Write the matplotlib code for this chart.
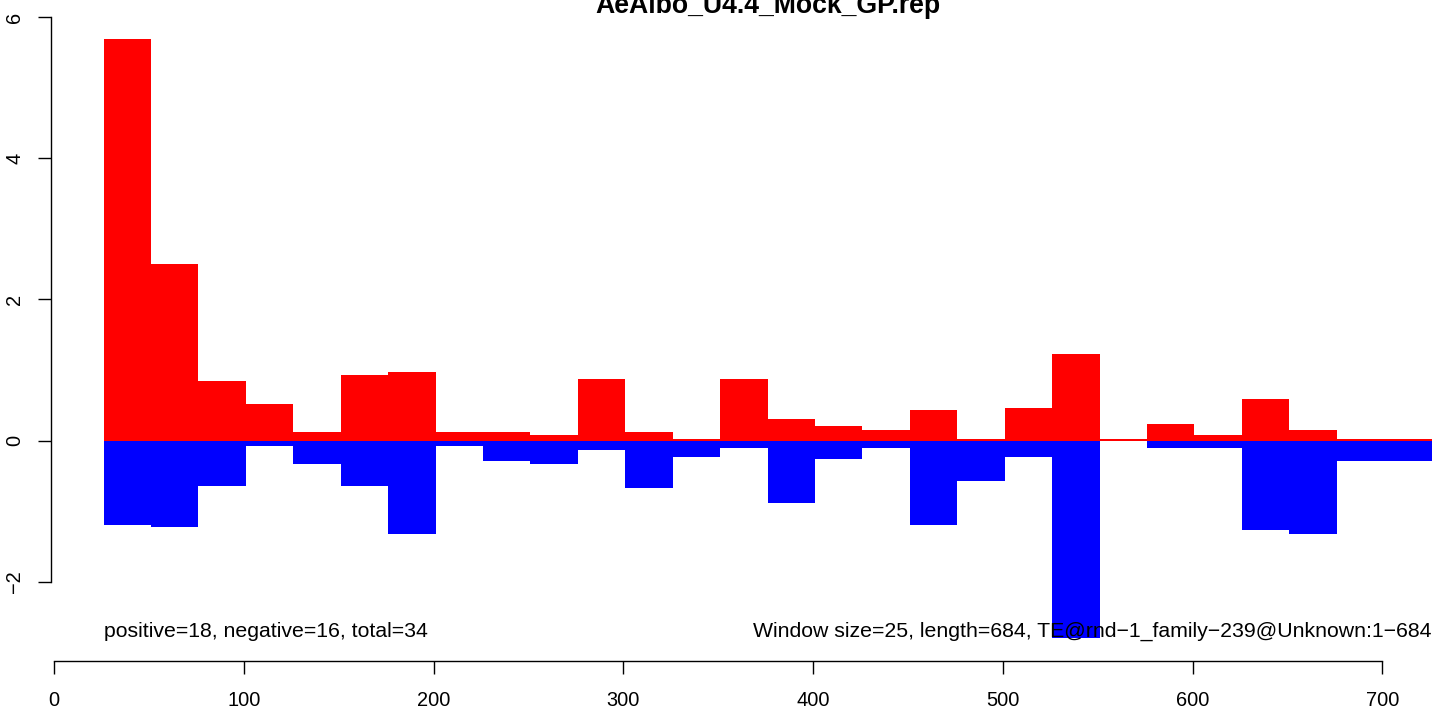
import matplotlib
matplotlib.use("Agg")
import matplotlib.pyplot as plt

plt.rcParams['font.family'] = ['Liberation Sans', 'DejaVu Sans']

title = "AeAlbo_U4.4_Mock_GP.rep"
window_start = [26, 51, 76, 101, 126, 151, 176, 201, 226, 251, 276, 301, 326, 351,
                376, 401, 426, 451, 476, 501, 526, 551, 576, 601, 626, 651, 676, 701]
pos_vals = [5.69, 2.50, 0.84, 0.525, 0.128, 0.936, 0.965, 0.128, 0.128, 0.085,
            0.879, 0.128, 0.028, 0.879, 0.312, 0.213, 0.156, 0.44, 0.028, 0.468,
            1.22, 0.028, 0.241, 0.085, 0.596, 0.156, 0.028, 0.028]
neg_vals = [-1.19, -1.22, -0.64, -0.07, -0.326, -0.64, -1.32, -0.07, -0.284, -0.326,
            -0.128, -0.667, -0.227, -0.099, -0.879, -0.255, -0.099, -1.19, -0.567, -0.227,
            -2.79, 0.0, -0.099, -0.099, -1.26, -1.32, -0.284, -0.284]
window_size = 25
x_ticks = [0, 100, 200, 300, 400, 500, 600, 700]
y_ticks = [-2, 0, 2, 4, 6]
left_note = "positive=18, negative=16, total=34"
right_note = "Window size=25, length=684, TE@rnd\u22121_family\u2212239@Unknown:1\u2212684"

W, H = 1436, 708
fig = plt.figure(figsize=(W / 100, H / 100), dpi=100)

# plot region in pixels
left_px, right_px, top_px, bottom_px = 50.5, 1484.7, 14.9, 660.7
ax = fig.add_axes([left_px / W, (H - bottom_px) / H,
                   (right_px - left_px) / W, (bottom_px - top_px) / H])
ax.set_xlim(-2, 754)
ax.set_ylim(-3.118, 6.03)

ax.bar(window_start, pos_vals, width=window_size, align='edge',
       color='#FF0000', linewidth=0)
ax.bar(window_start, neg_vals, width=window_size, align='edge',
       color='#0000FF', linewidth=0)

for s in ['top', 'right']:
    ax.spines[s].set_visible(False)
ax.spines['left'].set_bounds(-2, 6)
ax.spines['bottom'].set_bounds(0, 700)
for s in ['left', 'bottom']:
    ax.spines[s].set_linewidth(1.0)
    ax.spines[s].set_color('black')

ax.set_xticks(x_ticks)
ax.set_xticklabels([str(v) for v in x_ticks])
ax.set_yticks(y_ticks)
ax.set_yticklabels([str(v).replace('-', '\u2212') for v in y_ticks],
                   rotation=90, va='center')
ax.tick_params(axis='both', direction='out', length=9.4, width=1.0,
               labelsize=14.4, colors='black')
ax.tick_params(axis='x', pad=12.5)
ax.tick_params(axis='y', pad=9.5)

ax.text(26, -2.78, left_note, ha='left', va='baseline', fontsize=15.3)
ax.text(726, -2.78, right_note, ha='right', va='baseline', fontsize=15.3)

fig.text(767.6 / W, 1 - 13 / H, title, ha='center', va='baseline',
         fontsize=19.2, fontweight='bold')

fig.savefig("out.png", dpi=100, facecolor='white')
